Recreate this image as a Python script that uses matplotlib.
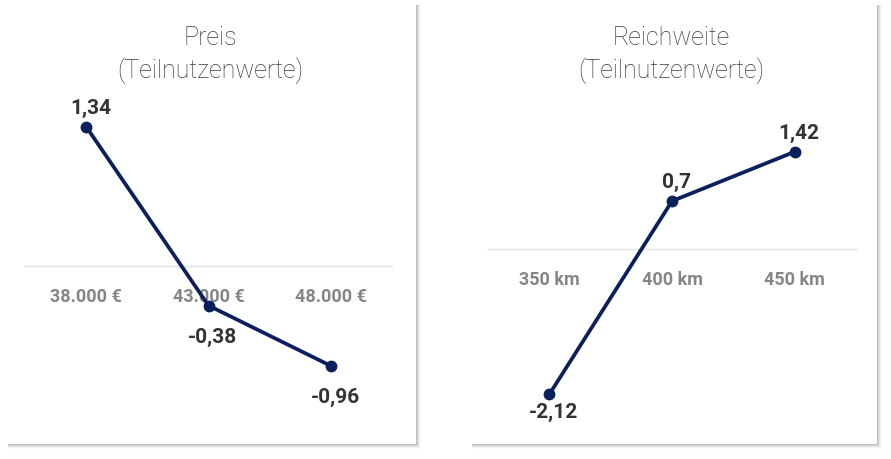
import matplotlib
matplotlib.use("Agg")
import matplotlib.pyplot as plt
from matplotlib.patches import Rectangle

# data
preis_labels = ["38.000 €", "43.000 €", "48.000 €"]
preis_values = [1.34, -0.38, -0.96]
reich_labels = ["350 km", "400 km", "450 km"]
reich_values = [-2.12, 0.7, 1.42]
titles = ["Preis\n(Teilnutzenwerte)", "Reichweite\n(Teilnutzenwerte)"]

W, H = 891, 460
LINE = "#0b1f5c"
FONT = ["Liberation Sans Narrow", "DejaVu Sans Condensed", "Roboto"]
TFONT = ["Roboto", "DejaVu Sans"]

fig = plt.figure(figsize=(W / 100, H / 100), dpi=100)
fig.patch.set_facecolor("white")


def px(x0, y0, x1, y1):
    # pixel box (top-left origin) -> figure fraction rect
    return [x0 / W, 1 - y1 / H, (x1 - x0) / W, (y1 - y0) / H]


def card(x0, y0, x1, y1):
    # soft shadow on right and bottom
    for i, a in enumerate([0.10, 0.07, 0.05, 0.03, 0.02]):
        r = px(x0 + 2, y0 + 2, x1 + 1 + i, y1 + 1 + i)
        fig.add_artist(Rectangle((r[0], r[1]), r[2], r[3], transform=fig.transFigure,
                                 facecolor="black", alpha=a, edgecolor="none", zorder=-2))
    r = px(x0, y0, x1, y1)
    fig.add_artist(Rectangle((r[0], r[1]), r[2], r[3], transform=fig.transFigure,
                             facecolor="white", edgecolor="none", zorder=-1))


card(6, 4, 416, 445)
card(470, 4, 877, 445)

panels = [
    # labels, values, title, axes px box, ylim, title x, label offsets (pt)
    (preis_labels, preis_values, titles[0], (25, 100, 392, 420), (-1.471, 1.606), 210, 14, -22),
    (reich_labels, reich_values, titles[1], (488, 100, 856, 420), (-2.48, 2.19), 671, 14, -12),
]

for labels, values, title, box, ylim, tx, up, down in panels:
    ax = fig.add_axes(px(*box))
    ax.set_zorder(2)
    ax.set_facecolor("none")
    x = list(range(len(values)))
    ax.plot(x, values, color=LINE, lw=2.7, marker="o", ms=7.5, zorder=3)
    ax.set_xlim(-0.5, len(values) - 0.5)
    ax.set_ylim(*ylim)
    for s in ["top", "right", "left"]:
        ax.spines[s].set_visible(False)
    ax.spines["bottom"].set_position(("data", 0))
    ax.spines["bottom"].set_color("#e0e0e0")
    ax.spines["bottom"].set_linewidth(1)
    ax.spines["bottom"].set_zorder(1)
    ax.set_yticks([])
    ax.set_xticks(x)
    ax.set_xticklabels(labels, family=FONT, fontsize=13, fontweight="bold",
                       stretch="condensed", color="#858585")
    ax.tick_params(axis="x", length=0, pad=15)
    for xi, v in zip(x, values):
        txt = ("%.2f" % v).rstrip("0").replace(".", ",")
        dy = up if v > 0 else down
        ax.annotate(txt, (xi, v), xytext=(3, dy), textcoords="offset points",
                    ha="center", va="center", family=FONT, fontsize=15,
                    fontweight="bold", stretch="condensed", color="#333333", zorder=4)
    fig.text(tx / W, 1 - 55 / H, title, ha="center", va="center", family=TFONT,
             fontsize=18, fontweight="light", color="#3a3a3a", linespacing=1.35)

fig.savefig("out.png", dpi=100, facecolor="white")
